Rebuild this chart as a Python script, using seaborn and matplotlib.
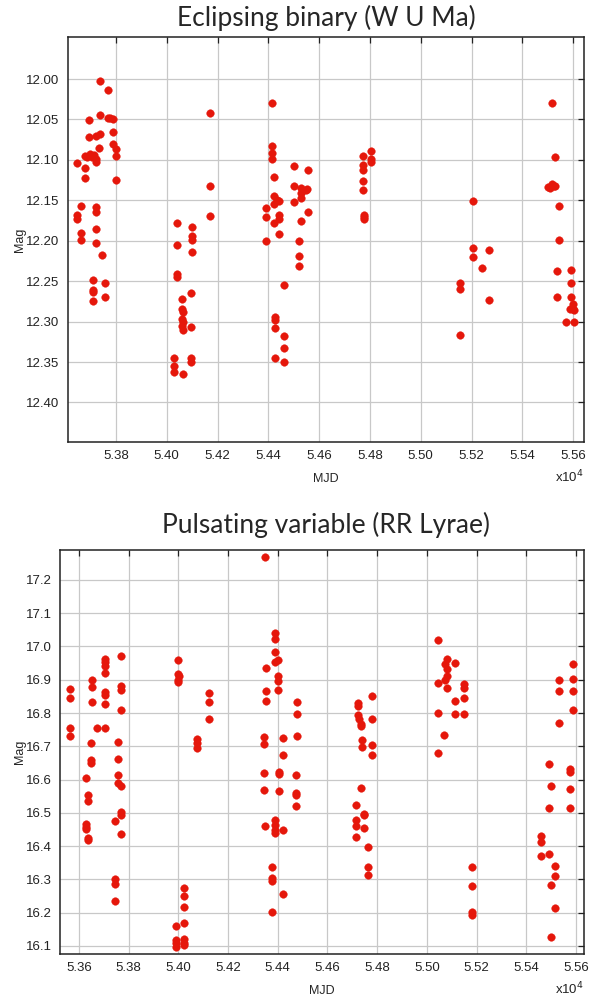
import matplotlib
matplotlib.use("Agg")
import matplotlib.pyplot as plt
import matplotlib.ticker as mticker
import seaborn as sns
import numpy as np

# Eclipsing binary (W U Ma): MJD, magnitude
ecl_mjd = [53647, 53694, 53737, 53767, 53737, 53767, 53777, 53787, 53694, 53720,
           53737, 53787, 53677, 53686, 53697, 53707, 53714, 53723, 53734, 53723,
           53790, 53799, 53799, 53677, 53677, 53799, 53664, 53647, 53647, 53720,
           53720, 53664, 53664, 53720, 53720, 53746, 53710, 53710, 53710, 53710,
           53755, 53755,
           54041, 54041, 54098, 54098, 54098, 54098, 54170, 54170, 54170, 54041,
           54041, 54058, 54058, 54065, 54058, 54065, 54058, 54065, 54094, 54094,
           54030, 54030, 54030, 54062, 54094, 54094,
           54413, 54413, 54413, 54413, 54422, 54422, 54433, 54442, 54422, 54392,
           54392, 54442, 54442, 54422, 54442, 54392, 54502, 54502, 54502, 54530,
           54530, 54530, 54530, 54522, 54522, 54522, 54547, 54553, 54555, 54555,
           54462, 54427, 54427, 54427, 54462, 54462, 54462, 54427,
           54772, 54772, 54772, 54772, 54772, 54805, 54805, 54805, 54775, 54775,
           54775,
           55207, 55207, 55207, 55269, 55243, 55269, 55154, 55154, 55154,
           55515, 55529, 55502, 55515, 55524, 55511, 55530, 55544, 55544, 55538,
           55538, 55591, 55591, 55591, 55601, 55601, 55588, 55605, 55571, 55605]
ecl_mag = [12.104, 12.051, 12.002, 12.013, 12.044, 12.048, 12.048, 12.049, 12.072, 12.071,
           12.068, 12.066, 12.095, 12.096, 12.093, 12.096, 12.094, 12.099, 12.085, 12.102,
           12.080, 12.087, 12.095, 12.110, 12.122, 12.125, 12.157, 12.168, 12.173, 12.158,
           12.165, 12.190, 12.199, 12.186, 12.203, 12.218, 12.248, 12.261, 12.264, 12.275,
           12.252, 12.269,
           12.178, 12.205, 12.183, 12.194, 12.199, 12.214, 12.042, 12.132, 12.169, 12.241,
           12.245, 12.272, 12.285, 12.288, 12.297, 12.300, 12.306, 12.311, 12.265, 12.307,
           12.345, 12.355, 12.362, 12.365, 12.345, 12.350,
           12.029, 12.083, 12.091, 12.099, 12.121, 12.145, 12.150, 12.151, 12.155, 12.160,
           12.171, 12.168, 12.173, 12.178, 12.192, 12.200, 12.107, 12.132, 12.152, 12.135,
           12.141, 12.147, 12.176, 12.200, 12.219, 12.231, 12.137, 12.136, 12.112, 12.165,
           12.255, 12.294, 12.298, 12.308, 12.318, 12.333, 12.350, 12.345,
           12.095, 12.106, 12.112, 12.126, 12.137, 12.089, 12.099, 12.102, 12.168, 12.171,
           12.173,
           12.151, 12.209, 12.220, 12.211, 12.234, 12.273, 12.252, 12.260, 12.316,
           12.030, 12.097, 12.133, 12.130, 12.132, 12.135, 12.132, 12.157, 12.199, 12.238,
           12.269, 12.236, 12.252, 12.269, 12.278, 12.284, 12.284, 12.286, 12.301, 12.300]

# Pulsating variable (RR Lyrae): MJD, magnitude
rr_mjd = [53563, 53563, 53563, 53563, 53653, 53653, 53653, 53672, 53648, 53648,
          53648, 53707, 53707, 53707, 53707, 53707, 53707, 53707, 53707, 53768,
          53768, 53768, 53768, 53759, 53759, 53997, 54000, 54004, 54000, 54000,
          54077, 54077, 54077, 54124, 54124, 54124, 54349, 54353, 54353, 54353,
          54344, 54344, 54390, 54390, 54390, 54390, 54403, 54403, 54403, 54403,
          54420, 54420, 54476, 54476, 54476, 54724, 54724, 54724, 54727, 54733,
          54733, 54778, 54778, 54737, 54737, 54778, 54778, 55043, 55080, 55073,
          55080, 55080, 55073, 55080, 55113, 55043, 55043, 55113, 55113, 55150,
          55150, 55150, 55150, 55070, 55043, 55532, 55532, 55532, 55586, 55586,
          55586, 55586,
          53627, 53635, 53635, 53627, 53627, 53627, 53635, 53635, 53759, 53759,
          53768, 53768, 53768, 53746, 53768, 53746, 53746, 53746, 53991, 53991,
          53991, 53991, 54024, 54024, 54024, 54024, 54024, 54024, 54024, 54344,
          54344, 54349, 54387, 54387, 54387, 54387, 54420, 54378, 54378, 54378,
          54420, 54378, 54407, 54407, 54407, 54473, 54473, 54473, 54473,
          54736, 54713, 54713, 54713, 54713, 54747, 54747, 54747, 54763, 54763,
          54763, 55181, 55181, 55181, 55181, 55458, 55458, 55458, 55490, 55500,
          55490, 55490, 55514, 55514, 55500, 55514, 55500, 55577, 55577, 55577,
          55577]
rr_mag = [16.871, 16.846, 16.755, 16.731, 16.898, 16.878, 16.833, 16.755, 16.711, 16.658,
          16.651, 16.963, 16.953, 16.940, 16.921, 16.863, 16.853, 16.826, 16.755, 16.970,
          16.881, 16.870, 16.808, 16.713, 16.663, 16.960, 16.918, 16.910, 16.900, 16.893,
          16.723, 16.711, 16.696, 16.861, 16.833, 16.781, 17.268, 16.935, 16.866, 16.836,
          16.728, 16.706, 17.041, 17.021, 16.983, 16.953, 16.960, 16.910, 16.896, 16.868,
          16.726, 16.673, 16.833, 16.796, 16.731, 16.830, 16.821, 16.793, 16.783, 16.768,
          16.761, 16.850, 16.781, 16.718, 16.698, 16.703, 16.673, 17.018, 16.963, 16.946,
          16.931, 16.910, 16.900, 16.875, 16.950, 16.891, 16.801, 16.836, 16.798, 16.886,
          16.876, 16.846, 16.798, 16.735, 16.680, 16.898, 16.866, 16.771, 16.948, 16.901,
          16.866, 16.808,
          16.606, 16.553, 16.535, 16.465, 16.458, 16.450, 16.425, 16.418, 16.613, 16.590,
          16.580, 16.503, 16.493, 16.475, 16.436, 16.300, 16.286, 16.235, 16.160, 16.118,
          16.110, 16.098, 16.120, 16.110, 16.103, 16.273, 16.250, 16.218, 16.170, 16.621,
          16.570, 16.461, 16.478, 16.463, 16.448, 16.440, 16.448, 16.338, 16.303, 16.296,
          16.256, 16.201, 16.623, 16.618, 16.566, 16.615, 16.560, 16.553, 16.520,
          16.576, 16.525, 16.478, 16.461, 16.426, 16.498, 16.493, 16.453, 16.398, 16.336,
          16.313, 16.338, 16.280, 16.201, 16.193, 16.430, 16.411, 16.371, 16.648, 16.580,
          16.515, 16.375, 16.340, 16.310, 16.283, 16.215, 16.126, 16.633, 16.623, 16.573,
          16.515]

titles = ["Eclipsing binary (W U Ma)", "Pulsating variable (RR Lyrae)"]

sns.set_style("white")
plt.rcParams['font.family'] = ['Liberation Sans', 'DejaVu Sans']

fig = plt.figure(figsize=(5.98, 10.01), dpi=100)
ax1 = fig.add_axes([0.1137, 0.5584, 0.8629, 0.4046])
ax2 = fig.add_axes([0.1003, 0.0470, 0.8763, 0.4036])

dot = '#e5170b'


def style_axis(ax, title, ty):
    ax.grid(True, color='#c8c8c8', linewidth=0.9)
    ax.set_axisbelow(True)
    for s in ax.spines.values():
        s.set_color('#222222')
        s.set_linewidth(1.1)
    ax.tick_params(direction='in', top=True, right=True, length=4, width=0.9,
                   labelsize=9.5, colors='#222222', pad=6)
    ax.set_xlabel('MJD', fontsize=9, labelpad=8)
    ax.set_ylabel('Mag', fontsize=9, labelpad=0)
    ax.xaxis.set_major_formatter(mticker.FuncFormatter(lambda v, p: f"{v / 1e4:.2f}"))
    ax.text(1.0, -0.087, r"x10$^4$", transform=ax.transAxes, ha='right', va='center',
            fontsize=9.5, color='#222222')
    fig.text(0.545, ty, title, ha='center', va='center', fontsize=19,
             family=['Lato', 'DejaVu Sans'])


sns.scatterplot(x=ecl_mjd, y=ecl_mag, ax=ax1, color=dot, s=30, edgecolor=dot,
                linewidth=0.3, zorder=3)
ax1.set_xlim(53611, 55643)
ax1.set_ylim(12.449, 11.948)
ax1.set_xticks(np.arange(53800, 55601, 200))
ax1.set_yticks(np.arange(12.0, 12.401, 0.05))
ax1.yaxis.set_major_formatter(mticker.FormatStrFormatter('%.2f'))
style_axis(ax1, titles[0], 0.982)

sns.scatterplot(x=rr_mjd, y=rr_mag, ax=ax2, color=dot, s=30, edgecolor=dot,
                linewidth=0.3, zorder=3)
ax2.set_xlim(53524, 55632)
ax2.set_ylim(16.076, 17.29)
ax2.set_xticks(np.arange(53600, 55601, 200))
ax2.set_yticks(np.arange(16.1, 17.201, 0.1))
ax2.yaxis.set_major_formatter(mticker.FormatStrFormatter('%.1f'))
style_axis(ax2, titles[1], 0.476)

fig.savefig('out.png', dpi=100)
